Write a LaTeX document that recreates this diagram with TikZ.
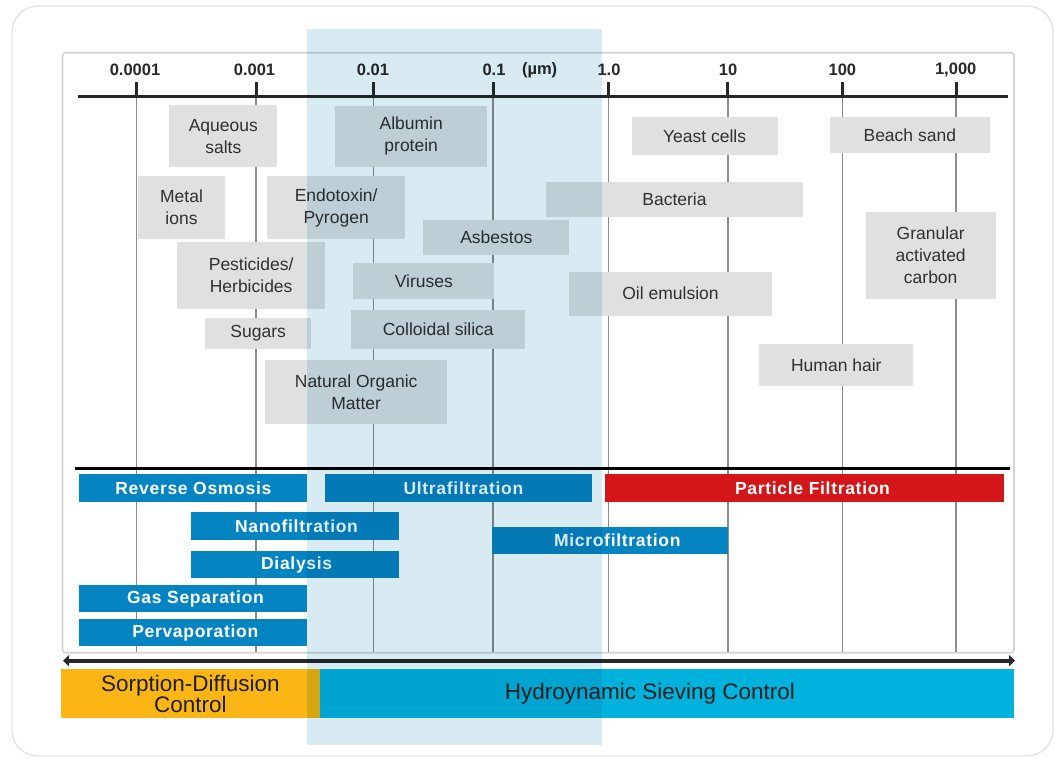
\documentclass[tikz,border=0pt]{standalone}
\usepackage{fontspec}
\setmainfont{Liberation Sans}
\usetikzlibrary{arrows.meta}
\definecolor{boxgray}{RGB}{224,224,224}
\definecolor{txtgray}{RGB}{48,48,48}
\definecolor{gridgray}{RGB}{140,140,140}
\definecolor{barblue}{RGB}{4,132,192}
\definecolor{barred}{RGB}{210,22,26}
\definecolor{orangebox}{RGB}{251,182,22}
\definecolor{cyanbox}{RGB}{0,178,220}
\definecolor{bandblue}{RGB}{216,235,243}
\definecolor{framegray}{RGB}{212,212,212}
\definecolor{outergray}{RGB}{226,226,226}
\definecolor{axisblack}{RGB}{40,40,40}
\tikzset{
  gbox/.style={fill=boxgray, text=txtgray, inner sep=0pt, outer sep=0pt, align=center,
    font=\fontsize{17.5}{22}\selectfont},
  bbar/.style={fill=barblue, inner sep=0pt, outer sep=0pt},
  bartext/.style={text=white, inner sep=0pt,
    font=\bfseries\fontsize{17.5}{20}\selectfont\addfontfeature{LetterSpace=4}},
  ticklabel/.style={font=\bfseries\fontsize{16.5}{19}\selectfont, text=axisblack, inner sep=0pt},
  gridline/.style={draw=gridgray, line width=1.4pt},
  tickmark/.style={draw=axisblack, line width=3pt},
  bigtext/.style={text=black!88, inner sep=0pt, align=center, font=\fontsize{22.5}{21}\selectfont},
}
\newcommand\gbx[6]{\node[gbox, minimum width=#4pt-#2pt, minimum height=#5pt-#3pt] (#1) at ({(#2+#4)/2},{(#3+#5)/2}) {#6};}
\newcommand\bbx[7]{\node[#7, minimum width=#4pt-#2pt, minimum height=#5pt-#3pt] (#1) at ({(#2+#4)/2},{(#3+#5)/2}) {#6};}
\begin{document}
\begin{tikzpicture}[x=1pt,y=-1pt]
\useasboundingbox (0,0) rectangle (1055,758);
\fill[white] (0,0) rectangle (1055,758);
% outer rounded panel
\draw[draw=outergray, line width=1.3pt, rounded corners=26pt] (12,6) rectangle (1053,756);
% inner frame
\draw[draw=framegray, line width=1.6pt, rounded corners=3pt] (62.5,52.7) rectangle (1014,652.7);
% grid lines and ticks
\foreach \gx/\gn in {136.5/a,256/b,373.7/c,493/d,608.5/e,727.8/f,842.6/g,956/h}{
  \coordinate (gt\gn) at (\gx,96.7);
  \coordinate (gb\gn) at (\gx,652);
  \coordinate (tk\gn) at (\gx,82);
  \draw[gridline] (gt\gn) -- (gb\gn);
  \draw[tickmark] (tk\gn) -- (gt\gn);
}
% axis
\coordinate (axL) at (78,96.7);
\coordinate (axR) at (1008,96.7);
\draw[draw=axisblack, line width=3pt] (axL) -- (axR);
% tick labels
\node[ticklabel] (l1) at (135,70) {0.0001};
\node[ticklabel] (l2) at (254.5,70) {0.001};
\node[ticklabel] (l3) at (373,70) {0.01};
\node[ticklabel] (l4) at (494,70) {0.1};
\node[ticklabel] (l5) at (539.6,70) {(µm)};
\node[ticklabel] (l6) at (609,70) {1.0};
\node[ticklabel] (l7) at (728,70) {10};
\node[ticklabel] (l8) at (842.4,70) {100};
\node[ticklabel] (l9) at (955.7,70) {1,000};
% second line
\coordinate (s2L) at (75,468.3);
\coordinate (s2R) at (1009.6,468.3);
\draw[draw=black, line width=2.8pt] (s2L) -- (s2R);
% gray boxes
\gbx{aq}{169.3}{105.3}{277.3}{167}{Aqueous\\salts}
\gbx{alb}{335.3}{105.5}{487.1}{166.8}{Albumin\\protein}
\gbx{yeast}{631.6}{117.3}{777.6}{155}{Yeast cells}
\gbx{beach}{829.8}{117.3}{989.8}{153.3}{Beach sand}
\gbx{metal}{138}{176}{225}{239.3}{Metal\\ions}
\gbx{endo}{267.3}{176}{405}{239.3}{Endotoxin/\\Pyrogen}
\gbx{bact}{545.7}{181.7}{803.3}{216.7}{Bacteria}
\gbx{gac}{865.7}{211.7}{995.7}{299.3}{Granular\\activated\\carbon}
\gbx{asb}{423.3}{219.5}{569.3}{255.3}{Asbestos}
\gbx{pest}{177.3}{241.7}{325}{309.3}{Pesticides/\\Herbicides}
\gbx{vir}{353.3}{263.3}{494.3}{299}{Viruses}
\gbx{oil}{569.3}{271.7}{771.7}{315.7}{Oil emulsion}
\gbx{coll}{351.3}{310}{525.3}{349.3}{Colloidal silica}
\gbx{sug}{205.3}{318}{311}{349.3}{Sugars}
\gbx{hair}{759.3}{344}{913.3}{385.7}{Human hair}
\gbx{nom}{265.3}{360}{447}{424}{Natural Organic\\Matter}
% process bars
\bbx{ro}{79}{474.3}{306.8}{502.3}{}{bbar}
\bbx{uf}{325}{474.3}{591.5}{502.3}{}{bbar}
\bbx{pf}{605.3}{474.3}{1003.8}{502.3}{}{bbar, fill=barred}
\bbx{nf}{191.4}{512.3}{399.4}{540}{}{bbar}
\bbx{mf}{491.5}{526.7}{728}{554.3}{}{bbar}
\bbx{dia}{191.4}{550.7}{399.4}{578.3}{}{bbar}
\bbx{gas}{79}{585}{307}{612.3}{}{bbar}
\bbx{per}{79}{619.3}{307}{646}{}{bbar}
\node[bartext] (rot) at (193.4,488.3) {Reverse Osmosis};
\node[bartext] (uft) at (463.4,488.3) {Ultrafiltration};
\node[bartext] (pft) at (812.5,488.3) {Particle Filtration};
\node[bartext] (nft) at (296.5,526.2) {Nanofiltration};
\node[bartext] (mft) at (617.3,540.5) {Microfiltration};
\node[bartext] (diat) at (296.7,564.5) {Dialysis};
\node[bartext] (gast) at (195.5,598.7) {Gas Separation};
\node[bartext] (pert) at (195.3,632.7) {Pervaporation};
% double arrow
\coordinate (arL) at (63,660.7);
\coordinate (arR) at (1015,660.7);
\draw[draw=axisblack, line width=4.2pt, {Triangle[length=6pt,width=11pt]}-{Triangle[length=6pt,width=11pt]}] (arL) -- (arR);
% control boxes
\bbx{sd}{61.3}{669}{319.5}{718.3}{}{fill=orangebox, inner sep=0pt, outer sep=0pt}
\bbx{hs}{319.5}{669}{1013.7}{718.3}{}{fill=cyanbox, inner sep=0pt, outer sep=0pt}
\node[bigtext] (sdt) at (190.4,693.6) {Sorption-Diffusion\\Control};
\node[bigtext] (hst) at (650,694) {Hydroynamic Sieving Control};
% translucent band
\begin{scope}[blend mode=multiply]
\fill[bandblue] (307.3,29) rectangle (601.5,744.7);
\end{scope}
\end{tikzpicture}
\end{document}
